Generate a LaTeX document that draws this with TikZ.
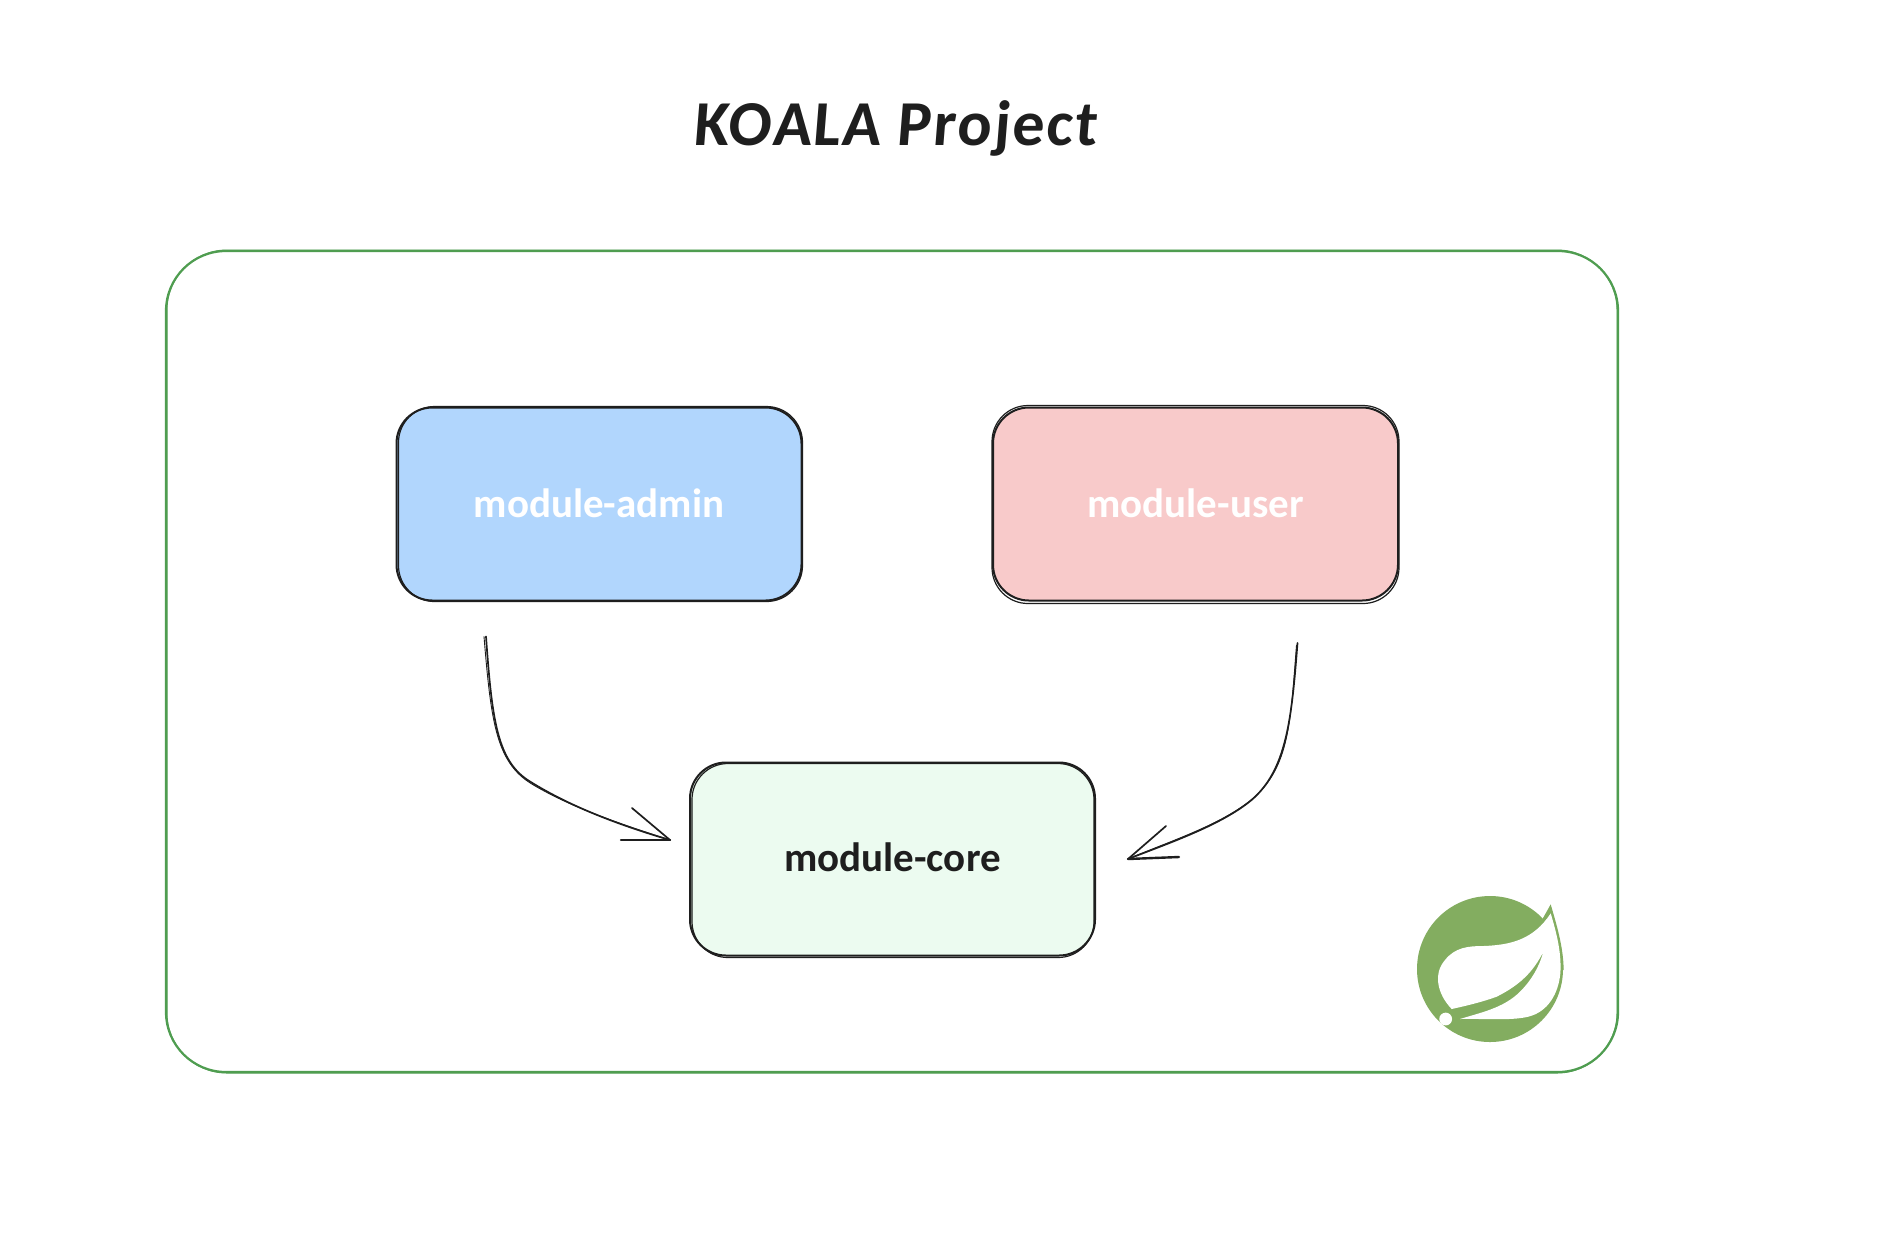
\documentclass[tikz,border=0pt]{standalone}
\usepackage{fontspec}
\setmainfont{Carlito}
\newfontfamily\titlefont[FakeSlant=0.08,LetterSpace=3]{Carlito Bold}
\usetikzlibrary{calc}
\definecolor{ink}{HTML}{1E1E1E}
\definecolor{frameg}{HTML}{4F9D50}
\definecolor{leafg}{HTML}{83AD60}
\definecolor{bluefill}{HTML}{B1D6FD}
\definecolor{redfill}{HTML}{F8CACA}
\definecolor{greenfill}{HTML}{ECFBF0}
\newcommand{\modlabel}[1]{\raisebox{1pt}{#1}}
\tikzset{
  frameline/.style={draw=frameg,line width=1.1pt,rounded corners=30pt},
  modbox/.style={draw=ink,line width=1pt,rounded corners=18pt,minimum width=202.5pt,minimum height=96.5pt,inner sep=0pt,outer sep=0pt,font=\bfseries\fontsize{20.5}{24}\selectfont},
  sketchline/.style={draw=ink,line width=0.6pt,rounded corners=18pt},
  conn/.style={draw=ink,line width=0.85pt,line cap=round},
  connthin/.style={draw=ink,line width=0.45pt,line cap=round},
}
\begin{document}
\begin{tikzpicture}[x=0.5pt,y=-0.5pt]
\useasboundingbox (0,0) rectangle (1890,1244);
\fill[white] (0,0) rectangle (1890,1244);
% title
\node[text=ink,inner sep=0pt,font=\titlefont\fontsize{32}{38}\selectfont] (title) at (895,128) {KOALA Project};
% outer frame
\node[frameline,minimum width=726pt,minimum height=410.5pt,inner sep=0pt,outer sep=0pt] (frame) at (892,661.5) {};
\draw[frameline,line width=0.5pt] ($(frame.north west)+(1,-1)$) rectangle ($(frame.south east)+(-1,1)$);
% boxes
\node[modbox,fill=bluefill,text=white] (admin) at (599,504) {\modlabel{module-admin}};
\draw[sketchline] ($(admin.north west)+(2,-1)$) rectangle ($(admin.south east)+(1,1)$);
\node[modbox,fill=redfill,text=white] (user) at (1195.5,504) {\modlabel{module-user}};
\draw[sketchline] ($(user.north west)+(-1,-2)$) rectangle ($(user.south east)+(1,3)$);
\node[modbox,fill=greenfill,text=ink] (core) at (892.5,859) {\raisebox{1.5pt}{module-core}};
\draw[sketchline] ($(core.north west)+(2,1)$) rectangle ($(core.south east)+(-1,2)$);
% left connector
\coordinate (as) at ($(admin.south)+(-113,36)$);
\coordinate (at) at ($(core.west)+(-20,-19)$);
\coordinate (asb) at ($(as)+(-2,0)$);
\coordinate (am) at ($(as)+(44,145)$);
\coordinate (amb) at ($(asb)+(47,147)$);
\draw[conn] (as) .. controls +(6,83) and +(-33,-20) .. (am) .. controls +(40,25) and +(-51,-15) .. (at);
\draw[connthin] (asb) .. controls +(7,85) and +(-35,-22) .. (amb) .. controls +(38,23) and +(-50,-16) .. (at);
\coordinate (ah1) at ($(at)+(-38,-32)$);
\coordinate (ah2) at ($(at)+(-49,0)$);
\draw[conn] (at) -- (ah1);
\draw[conn,line width=1.2pt] (at) -- (ah2);
% right connector
\coordinate (us) at ($(user.south)+(102,42.5)$);
\coordinate (ut) at ($(core.east)+(33,0)$);
\coordinate (usb) at ($(us)+(-1,2)$);
\coordinate (um) at ($(us)+(-46,157)$);
\coordinate (umb) at ($(usb)+(-43,153)$);
\draw[conn] (us) .. controls +(-6,77) and +(35,-30) .. (um) .. controls +(-30,25) and +(41,-16) .. (ut);
\draw[connthin] (usb) .. controls +(-6,77) and +(36,-32) .. (umb) .. controls +(-32,27) and +(42,-18) .. (ut);
\coordinate (uh1) at ($(ut)+(38,-33)$);
\coordinate (uh2) at ($(ut)+(51,-2)$);
\draw[conn] (ut) -- (uh1);
\draw[conn,line width=1.2pt] (ut) -- (uh2);
% spring logo
\begin{scope}[shift={(1380,860)},x=0.16667pt,y=-0.16667pt]
  \fill[leafg] (330,327) circle (36.5pt);
  \fill[leafg] (488,176) -- (512,133) .. controls (530,195) and (550,260) .. (551,330) -- (500,330) -- cycle;
  \fill[white] (215,447) .. controls (170,400) and (160,340) .. (195,300)
     .. controls (225,262) and (265,258) .. (310,258)
     .. controls (390,255) and (460,240) .. (512,160)
     .. controls (530,220) and (545,280) .. (541,340)
     .. controls (535,400) and (505,455) .. (445,470)
     .. controls (390,483) and (310,475) .. (240,477)
     .. controls (300,458) and (370,445) .. (420,395)
     .. controls (455,360) and (478,320) .. (490,275)
     .. controls (460,335) and (420,375) .. (350,410)
     .. controls (310,425) and (260,437) .. (215,447) -- cycle;
  \fill[white] (197,477) circle (3.2pt);
\end{scope}
\end{tikzpicture}
\end{document}
